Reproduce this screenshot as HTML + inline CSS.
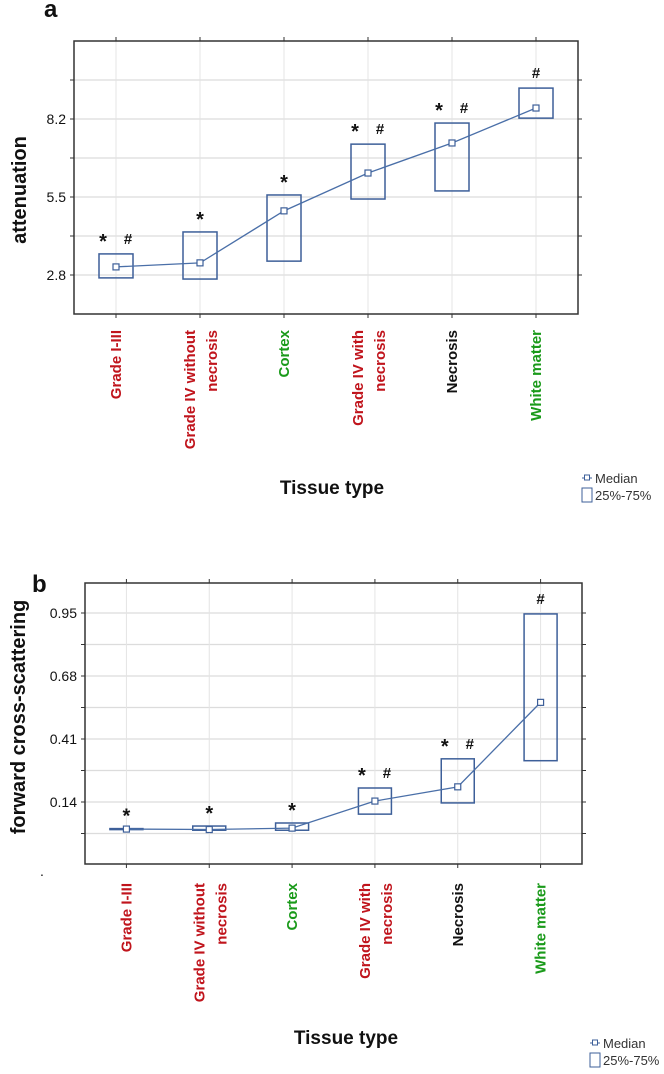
<!DOCTYPE html>
<html><head><meta charset="utf-8">
<style>
body{margin:0;background:#fff;width:664px;height:1069px;overflow:hidden;font-family:"Liberation Sans",sans-serif}
svg text{font-family:"Liberation Sans",sans-serif}
</style></head>
<body>
<svg id="svg" width="664" height="1069" viewBox="0 0 664 1069"></svg>
<script>
const categories = ["Grade I-III","Grade IV without|necrosis","Cortex","Grade IV with|necrosis","Necrosis","White matter"];
const catColors = ["#c0141c","#c0141c","#1a9a1a","#c0141c","#111","#1a9a1a"];
const aQ1 = [2.70,2.66,3.28,5.43,5.71,8.23];
const aQ3 = [3.53,4.29,5.57,7.33,8.06,9.27];
const aMed = [3.08,3.22,5.02,6.33,7.37,8.58];
const aMarks = ["* #","*","*","* #","* #","#"];
const aTicks = [2.8,5.5,8.2];
const aGrid = [2.8,4.15,5.5,6.85,8.2,9.55];
const bQ1 = [0.022,0.019,0.019,0.088,0.136,0.317];
const bQ3 = [0.026,0.037,0.050,0.200,0.325,0.946];
const bMed = [0.024,0.022,0.028,0.144,0.205,0.567];
const bMarks = ["*","*","*","* #","* #","#"];
const bTicks = [0.14,0.41,0.68,0.95];
const bGrid = [0.005,0.14,0.275,0.41,0.545,0.68,0.815,0.95];

const NS="http://www.w3.org/2000/svg";
const svg=document.getElementById('svg');
function mk(tag,attrs,parent){const e=document.createElementNS(NS,tag);for(const k in attrs)e.setAttribute(k,attrs[k]);(parent||svg).appendChild(e);return e;}

function chart(o){
  const g=mk('g',{});
  
  
  const y=v=>o.y0-(v-o.v0)*o.ppu;
  const step=(o.x1-o.x0)/6;
  const x=i=>o.x0+step*(i+0.5);
  o.grid.forEach(v=>{const l=mk('line',{x1:o.x0,x2:o.x1,y1:y(v),y2:y(v),stroke:'#dcdcdc','stroke-width':1.2},g);
    
    mk('line',{x1:o.x0-4,x2:o.x0,y1:y(v),y2:y(v),stroke:'#333'},g);mk('line',{x1:o.x1,x2:o.x1+4,y1:y(v),y2:y(v),stroke:'#333'},g);});
  categories.forEach((c,i)=>{const l=mk('line',{x1:x(i),x2:x(i),y1:o.top,y2:o.bot,stroke:'#e4e4e4','stroke-width':1},g);
    
    mk('line',{x1:x(i),x2:x(i),y1:o.top-4,y2:o.top,stroke:'#333'},g);mk('line',{x1:x(i),x2:x(i),y1:o.bot,y2:o.bot+4,stroke:'#333'},g);});
  const fr=mk('rect',{x:o.x0,y:o.top,width:o.x1-o.x0,height:o.bot-o.top,fill:'none',stroke:'#333','stroke-width':1.5},g);
  
  o.ticks.forEach(v=>{const t=mk('text',{x:o.x0-8,y:y(v)+5,'text-anchor':'end','font-size':14,fill:'#111'},g);t.textContent=String(v);
    });
  categories.forEach((c,i)=>{const r=mk('rect',{x:x(i)-o.bw/2,y:y(o.q3[i]),width:o.bw,height:Math.max(1,y(o.q1[i])-y(o.q3[i])),fill:'none',stroke:'#3d5f99','stroke-width':1.5},g);
    });
  const pts=o.med.map((v,i)=>x(i)+','+y(v)).join(' ');
  const pl=mk('polyline',{points:pts,fill:'none',stroke:'#4a6fa8','stroke-width':1.3},g);
  
  o.med.forEach((v,i)=>{const m=mk('rect',{x:x(i)-3,y:y(v)-3,width:6,height:6,fill:'#fff',stroke:'#3d5f99','stroke-width':1.2},g);
    });
  o.marks.forEach((mkS,i)=>{const yy=y(o.q3[i])-10;
    const parts=mkS.split(' ');
    parts.forEach(p=>{const dx=parts.length===2?(p==='*'?-13:12):0;
      const t=mk('text',{x:x(i)+dx,y:yy+(p==='*'?4:0),'text-anchor':'middle','font-size':p==='*'?20:15,'font-weight':'bold',fill:'#111'},g);t.textContent=p;
      });});
  categories.forEach((c,i)=>{const lines=c.split('|');
    lines.forEach((ln,k)=>{const lx=x(i)+(lines.length===2?(k===0?-10:12):0)+5;
      const t=mk('text',{x:lx,y:o.labTop,'text-anchor':'end','font-size':15,'font-weight':'bold',fill:catColors[i],transform:`rotate(-90 ${lx} ${o.labTop})`},g);t.textContent=ln;
      });});
  const xt=mk('text',{x:o.xtX,y:o.xtY,'text-anchor':'middle','font-size':19,'font-weight':'bold',fill:'#111'},g);xt.textContent='Tissue type';
  
  const yt=mk('text',{x:o.ytX,y:o.ytY,'text-anchor':'middle','font-size':20,'font-weight':'bold',fill:'#111',transform:`rotate(-90 ${o.ytX} ${o.ytY})`},g);yt.textContent=o.ytitle;
  
  const pl2=mk('text',{x:o.plX,y:o.plY,'font-size':24,'font-weight':'bold',fill:'#111'},g);pl2.textContent=o.panel;
  
  const lg=mk('g',{},g);
  mk('line',{x1:o.lgX,x2:o.lgX+10,y1:o.lgY-4,y2:o.lgY-4,stroke:'#3d5f99'},lg);
  mk('rect',{x:o.lgX+2.5,y:o.lgY-7,width:5,height:5,fill:'#fff',stroke:'#3d5f99'},lg);
  const t1=mk('text',{x:o.lgX+13,y:o.lgY+1,'font-size':13,fill:'#333'},lg);t1.textContent='Median';
  
  mk('rect',{x:o.lgX,y:o.lgY+6,width:10,height:14,fill:'none',stroke:'#3d5f99'},lg);
  const t2=mk('text',{x:o.lgX+13,y:o.lgY+18,'font-size':13,fill:'#333'},lg);t2.textContent='25%-75%';
  
  return g;
}
chart({name:'chart-a',x0:74,x1:578,top:41,bot:314,v0:2.8,y0:275,ppu:39/1.35,bw:34,q1:aQ1,q3:aQ3,med:aMed,marks:aMarks,ticks:aTicks,grid:aGrid,
  labTop:330,xtX:332,xtY:494,ytX:26,ytY:190,ytitle:'attenuation',panel:'a',plX:44,plY:17,lgX:582,lgY:482});
chart({name:'chart-b',x0:85,x1:582,top:583,bot:864,v0:0.14,y0:802,ppu:63/0.27,bw:33,q1:bQ1,q3:bQ3,med:bMed,marks:bMarks,ticks:bTicks,grid:bGrid,
  labTop:883,xtX:346,xtY:1044,ytX:25,ytY:717,ytitle:'forward cross-scattering',panel:'b',plX:32,plY:592,lgX:590,lgY:1047});
const dot=mk('text',{x:40,y:876,'font-size':14,fill:'#111'});dot.textContent='.';


</script>
</body></html>
